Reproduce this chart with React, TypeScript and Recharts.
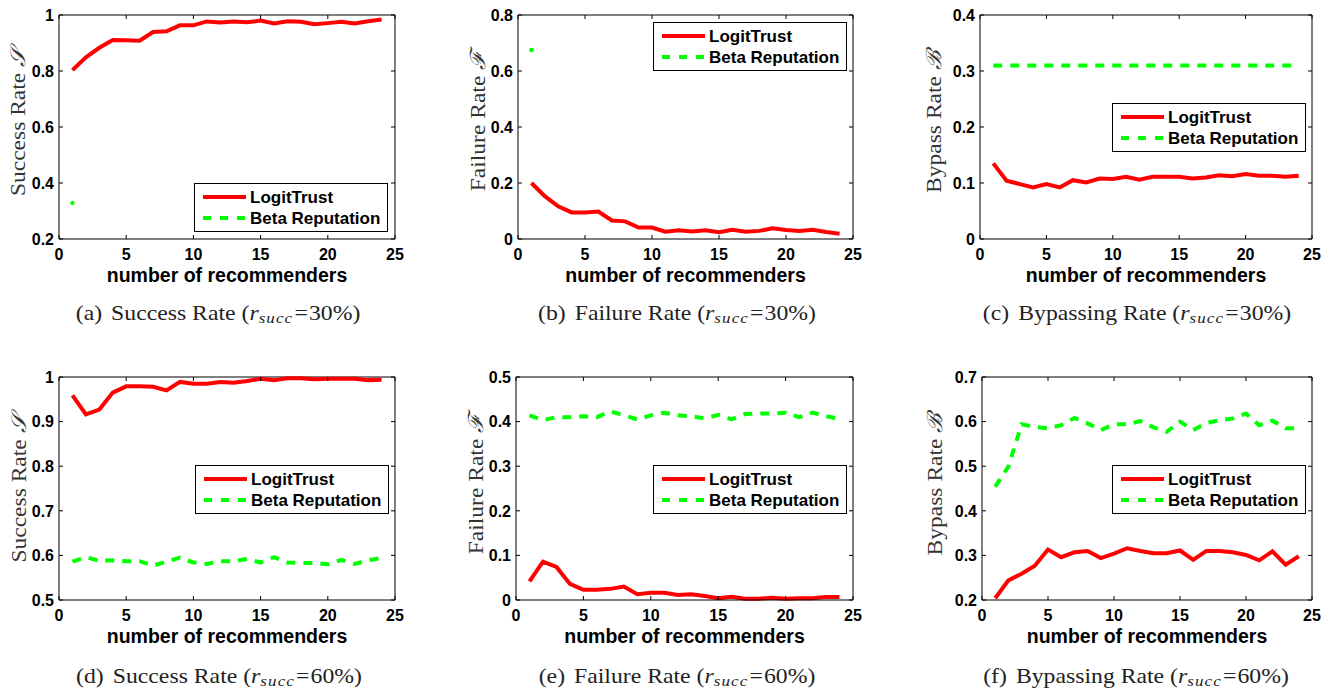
import React from 'react';
import { LineChart, Line, XAxis, YAxis, Legend, CartesianGrid } from 'recharts';

// ---------- data ----------
const recommenders = [1, 2, 3, 4, 5, 6, 7, 8, 9, 10, 11, 12, 13, 14, 15, 16, 17, 18, 19, 20, 21, 22, 23, 24];
const xTicks = [0, 5, 10, 15, 20, 25];

const succ30Logit = [0.803, 0.849, 0.883, 0.911, 0.910, 0.908, 0.939, 0.942, 0.963, 0.963, 0.977, 0.973, 0.977, 0.974, 0.980, 0.970, 0.978, 0.976, 0.967, 0.971, 0.976, 0.970, 0.978, 0.984];
const succ30Beta = [0.329, null, null, null, null, null, null, null, null, null, null, null, null, null, null, null, null, null, null, null, null, null, null, null];
const fail30Logit = [0.200, 0.153, 0.117, 0.095, 0.095, 0.098, 0.066, 0.063, 0.041, 0.041, 0.026, 0.031, 0.027, 0.031, 0.024, 0.033, 0.026, 0.029, 0.038, 0.032, 0.029, 0.033, 0.025, 0.019];
const fail30Beta = [0.675, null, null, null, null, null, null, null, null, null, null, null, null, null, null, null, null, null, null, null, null, null, null, null];
const byp30Logit = [0.135, 0.104, 0.098, 0.092, 0.098, 0.092, 0.105, 0.101, 0.108, 0.107, 0.111, 0.106, 0.111, 0.111, 0.111, 0.108, 0.110, 0.114, 0.112, 0.116, 0.113, 0.113, 0.111, 0.113];
const byp30Beta = [0.31, 0.31, 0.31, 0.31, 0.31, 0.31, 0.31, 0.31, 0.31, 0.31, 0.31, 0.31, 0.31, 0.31, 0.31, 0.31, 0.31, 0.31, 0.31, 0.31, 0.31, 0.31, 0.31, 0.31];
const succ60Logit = [0.959, 0.916, 0.927, 0.965, 0.979, 0.979, 0.978, 0.970, 0.989, 0.985, 0.985, 0.989, 0.987, 0.991, 0.996, 0.993, 0.997, 0.997, 0.995, 0.996, 0.996, 0.996, 0.993, 0.994];
const succ60Beta = [0.586, 0.596, 0.588, 0.589, 0.587, 0.587, 0.577, 0.586, 0.595, 0.584, 0.581, 0.587, 0.587, 0.592, 0.584, 0.596, 0.584, 0.583, 0.583, 0.580, 0.590, 0.581, 0.589, 0.594];
const fail60Logit = [0.042, 0.086, 0.074, 0.036, 0.023, 0.023, 0.025, 0.030, 0.013, 0.016, 0.016, 0.011, 0.013, 0.009, 0.004, 0.007, 0.003, 0.003, 0.005, 0.003, 0.004, 0.004, 0.007, 0.007];
const fail60Beta = [0.414, 0.403, 0.410, 0.410, 0.412, 0.410, 0.423, 0.414, 0.405, 0.414, 0.420, 0.414, 0.412, 0.407, 0.415, 0.405, 0.417, 0.418, 0.418, 0.420, 0.410, 0.420, 0.412, 0.406];
const byp60Logit = [0.204, 0.244, 0.259, 0.277, 0.313, 0.296, 0.307, 0.310, 0.294, 0.304, 0.316, 0.310, 0.305, 0.305, 0.311, 0.290, 0.310, 0.310, 0.307, 0.301, 0.289, 0.309, 0.279, 0.298];
const byp60Beta = [0.454, 0.499, 0.594, 0.588, 0.585, 0.592, 0.608, 0.596, 0.581, 0.594, 0.594, 0.601, 0.587, 0.577, 0.600, 0.581, 0.597, 0.603, 0.607, 0.618, 0.592, 0.602, 0.585, 0.585];

const yTicksSucc30 = [0.2, 0.4, 0.6, 0.8, 1];
const yTicksFail30 = [0, 0.2, 0.4, 0.6, 0.8];
const yTicksByp30 = [0, 0.1, 0.2, 0.3, 0.4];
const yTicksSucc60 = [0.5, 0.6, 0.7, 0.8, 0.9, 1];
const yTicksFail60 = [0, 0.1, 0.2, 0.3, 0.4, 0.5];
const yTicksByp60 = [0.2, 0.3, 0.4, 0.5, 0.6, 0.7];

const seriesNames = ['LogitTrust', 'Beta Reputation'];
const xAxisTitle = 'number of recommenders';
const yTitles = ['Success Rate', 'Failure Rate', 'Bypass Rate'];
const yScripts = ['\u{1D4AE}', '\u2131', '\u212C'];
const captionLetters = ['a', 'b', 'c', 'd', 'e', 'f'];
const captionTitles = ['Success Rate', 'Failure Rate', 'Bypassing Rate', 'Success Rate', 'Failure Rate', 'Bypassing Rate'];
const captionPcts = ['30', '30', '30', '60', '60', '60'];

// ---------- layout ----------
const SANS = '"Liberation Sans", Arial, Helvetica, sans-serif';
const SERIF = '"Liberation Serif", "Times New Roman", serif';
const RED = '#ff0000';
const GREEN = '#00ff00';
const YAXIS_W = 60;
const M_TOP = 12;
const M_RIGHT = 16;
const X_TICK_MARGIN = 14;
const Y_TICK_MARGIN = 9;
const TICK_LEN = 4;

type PanelCfg = {
  px: number; py: number; pw: number; ph: number;
  logit: (number | null)[]; beta: (number | null)[];
  yTicks: number[]; yi: number;
  labBase: number; labCy: number;
  lx: number; ly: number;
  capX: number; capY: number; ci: number;
};

const panels: PanelCfg[] = [
  { px: 59, py: 15, pw: 336, ph: 224, logit: succ30Logit, beta: succ30Beta, yTicks: yTicksSucc30, yi: 0, labBase: 34, labCy: 122.5, lx: 194, ly: 183, capX: 218, capY: 319.5, ci: 0 },
  { px: 518, py: 15, pw: 335, ph: 224, logit: fail30Logit, beta: fail30Beta, yTicks: yTicksFail30, yi: 1, labBase: 33, labCy: 121, lx: 653, ly: 22, capX: 677, capY: 319.5, ci: 1 },
  { px: 980, py: 15, pw: 332, ph: 224, logit: byp30Logit, beta: byp30Beta, yTicks: yTicksByp30, yi: 2, labBase: 39, labCy: 121.5, lx: 1112, ly: 103, capX: 1137, capY: 319.5, ci: 2 },
  { px: 59, py: 377, pw: 336, ph: 223, logit: succ60Logit, beta: succ60Beta, yTicks: yTicksSucc60, yi: 0, labBase: 33, labCy: 489, lx: 195, ly: 465, capX: 219, capY: 682.5, ci: 3 },
  { px: 516, py: 377, pw: 337, ph: 223, logit: fail60Logit, beta: fail60Beta, yTicks: yTicksFail60, yi: 1, labBase: 33, labCy: 484, lx: 653, ly: 465, capX: 677, capY: 682.5, ci: 4 },
  { px: 982, py: 377, pw: 330, ph: 223, logit: byp60Logit, beta: byp60Beta, yTicks: yTicksByp60, yi: 2, labBase: 40, labCy: 484, lx: 1112, ly: 465, capX: 1136, capY: 682.5, ci: 5 },
];

// bottom tick label, plus the mirrored inward tick on the top edge of the box
const XTick = (props: any) => {
  const { x, y, payload, plotH } = props;
  const axisY = y + TICK_LEN - X_TICK_MARGIN;
  const topY = axisY - plotH;
  return (
    <g>
      <line x1={x} x2={x} y1={topY} y2={topY + TICK_LEN} stroke="#000" strokeWidth={1} />
      <text x={x} y={y + 11.4} textAnchor="middle" fontFamily={SANS} fontWeight="bold" fontSize={16} fill="#000">
        {String(payload.value)}
      </text>
    </g>
  );
};

// left tick label, plus the mirrored inward tick on the right edge of the box
const YTick = (props: any) => {
  const { x, y, payload, plotW } = props;
  const axisX = x - TICK_LEN + Y_TICK_MARGIN;
  const rightX = axisX + plotW;
  return (
    <g>
      <line x1={rightX - TICK_LEN} x2={rightX} y1={y} y2={y} stroke="#000" strokeWidth={1} />
      <text x={x} y={y + 5.8} textAnchor="end" fontFamily={SANS} fontWeight="bold" fontSize={16} fill="#000">
        {String(payload.value)}
      </text>
    </g>
  );
};

// the box's top and right edges, drawn by the grid from the plot offset
const topEdge = (p: any) => [p.offset.top];
const rightEdge = (p: any) => [p.offset.left + p.offset.width];

const LegendBox = () => (
  <svg width={194} height={49} style={{ display: 'block' }}>
    <rect x={0.5} y={0.5} width={193} height={48} fill="#fff" stroke="#000" strokeWidth={1} />
    <line x1={9} x2={52} y1={14} y2={14} stroke={RED} strokeWidth={4} />
    <text x={56} y={20} fontFamily={SANS} fontWeight="bold" fontSize={17} fill="#000">{seriesNames[0]}</text>
    <line x1={9} x2={52} y1={35} y2={35} stroke={GREEN} strokeWidth={4} strokeDasharray="8 9" />
    <text x={56} y={41} fontFamily={SANS} fontWeight="bold" fontSize={17} fill="#000">{seriesNames[1]}</text>
  </svg>
);

function Panel({ cfg }: { cfg: PanelCfg }) {
  const { px, py, pw, ph, logit, beta, yTicks, yi, labBase, labCy, lx, ly } = cfg;
  const chartLeft = px - YAXIS_W;
  const chartTop = py - M_TOP;
  const data = recommenders.map((x, i) => ({ x, logit: logit[i], beta: beta[i] }));
  const yMin = yTicks[0];
  const yMax = yTicks[yTicks.length - 1];

  const betaDot = (props: any) => {
    const { cx, cy, index } = props;
    const v = beta[index];
    const prev = index > 0 ? beta[index - 1] : null;
    const next = index < beta.length - 1 ? beta[index + 1] : null;
    if (v == null || cx == null || cy == null || prev != null || next != null) {
      return <g key={`d${index}`} />;
    }
    return <circle key={`d${index}`} cx={cx} cy={cy} r={2.2} fill={GREEN} stroke="none" />;
  };

  const xLabel = (props: any) => {
    const vb = props.viewBox || {};
    return (
      <text x={vb.x + vb.width / 2} y={vb.y + 42.5} textAnchor="middle" fontFamily={SANS} fontWeight="bold" fontSize={19.5} fill="#000">
        {xAxisTitle}
      </text>
    );
  };

  const yLabel = () => {
    const cx = YAXIS_W - labBase;
    const cy = labCy - chartTop;
    return (
      <text transform={`translate(${cx},${cy}) rotate(-90) scale(1.12,1)`} x={0} y={0} textAnchor="middle" fontFamily={SERIF} fontSize={21} fill="#333">
        {yTitles[yi]} <tspan fontStyle="italic">{yScripts[yi]}</tspan>
      </text>
    );
  };

  return (
    <div style={{ position: 'absolute', left: chartLeft, top: chartTop }}>
      <LineChart width={pw + YAXIS_W + M_RIGHT} height={ph + M_TOP + 50 + 5} data={data}
        margin={{ top: M_TOP, right: M_RIGHT, bottom: 5, left: 0 }}>
        <CartesianGrid stroke="#000" strokeWidth={1} fill="none"
          horizontalCoordinatesGenerator={topEdge} verticalCoordinatesGenerator={rightEdge} />
        <XAxis dataKey="x" type="number" domain={[0, 25]} ticks={xTicks} interval={0} height={50}
          tickSize={-TICK_LEN} tickMargin={X_TICK_MARGIN} stroke="#000"
          tick={<XTick plotH={ph} />} label={{ content: xLabel }} />
        <YAxis type="number" domain={[yMin, yMax]} ticks={yTicks} interval={0} width={YAXIS_W}
          tickSize={-TICK_LEN} tickMargin={Y_TICK_MARGIN} stroke="#000"
          tick={<YTick plotW={pw} />} label={{ content: yLabel }} />
        <Line dataKey="logit" name={seriesNames[0]} type="linear" stroke={RED} strokeWidth={4} dot={false} activeDot={false} isAnimationActive={false} />
        <Line dataKey="beta" name={seriesNames[1]} type="linear" stroke={GREEN} strokeWidth={4} strokeDasharray="9 8" dot={betaDot} activeDot={false} isAnimationActive={false} />
        <Legend layout="vertical" align="center" verticalAlign="middle" content={() => <LegendBox />}
          wrapperStyle={{ left: lx - chartLeft, top: ly - chartTop, width: 194, height: 49, margin: 0, padding: 0 }} />
      </LineChart>
    </div>
  );
}

export default function App() {
  return (
    <div style={{ position: 'absolute', left: 0, top: 0, width: 1323, height: 688, background: '#fff', overflow: 'hidden' }}>
      {panels.map((p, i) => <Panel key={i} cfg={p} />)}
      <svg width={1323} height={688} style={{ position: 'absolute', left: 0, top: 0, pointerEvents: 'none' }}>
        {panels.map((p, i) => (
          <text key={i} transform={`translate(${p.capX},${p.capY}) scale(1.13,1)`} x={0} y={0} textAnchor="middle"
            fontFamily={SERIF} fontSize={21} fill="#222">
            <tspan>({captionLetters[p.ci]})</tspan>
            <tspan dx={8}>{captionTitles[p.ci]} (</tspan>
            <tspan fontStyle="italic">r</tspan>
            <tspan fontStyle="italic" fontSize={15} dy={3} letterSpacing={1}>succ</tspan>
            <tspan dy={-3} dx={1}>=</tspan>
            <tspan dx={1}>{captionPcts[p.ci]}%)</tspan>
          </text>
        ))}
      </svg>
    </div>
  );
}
